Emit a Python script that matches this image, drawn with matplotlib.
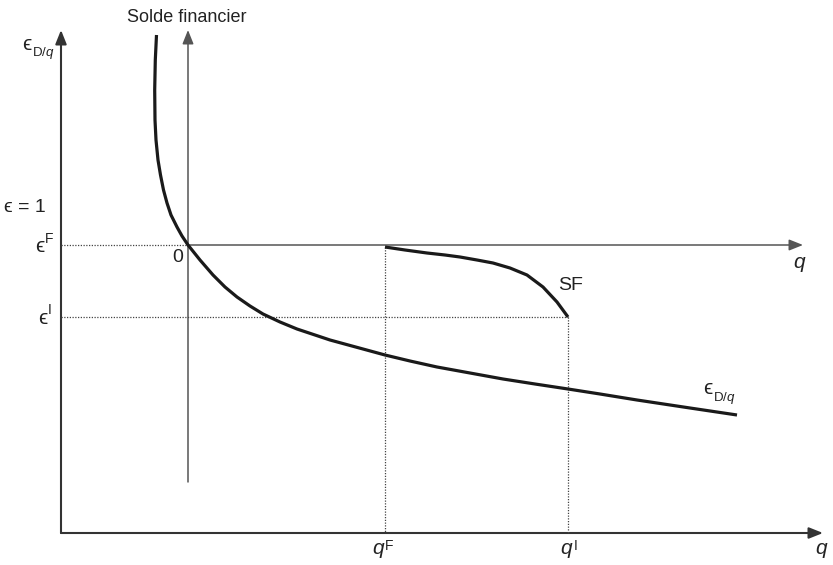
import matplotlib.pyplot as plt
from matplotlib.patches import FancyArrowPatch

plt.rcParams['font.family'] = ['Liberation Sans', 'DejaVu Sans']
plt.rcParams['mathtext.fontset'] = 'custom'
plt.rcParams['mathtext.rm'] = 'Liberation Sans'
plt.rcParams['mathtext.it'] = 'Liberation Sans:italic'

# diagram coordinates (x to the right, y downward, same scale as the picture)
# elasticity curve eps_D/q
eps_x = [156.5, 155.3, 154.7, 155, 156, 158, 160.5, 163.5, 167, 171, 177, 182, 188,
         200, 213, 225, 237, 250, 263, 280, 297, 330, 363, 385, 410, 437, 470, 503,
         535, 568, 600, 637, 690, 737]
eps_y = [35, 60, 90, 120, 140, 160, 175, 190, 203, 215, 227, 236, 245,
         260, 275, 287, 297, 306, 314, 322, 329, 340, 349, 355, 361, 367, 373, 379,
         384, 389, 394, 400, 408, 415]

# solde financier curve SF
sf_x = [385, 405, 427, 445, 460, 477, 493, 510, 527, 543, 557, 568]
sf_y = [247, 250, 253, 255, 257, 260, 263, 268, 275, 287, 302, 317]

# reference levels
origin_outer = (61, 533)
origin_inner = (188, 245)
q_F = 385
q_I = 568
eps_F = 245
eps_I = 317

fig = plt.figure(figsize=(8.33, 5.65), dpi=100)
ax = fig.add_axes([0, 0, 1, 1])
ax.set_xlim(0, 833)
ax.set_ylim(565, 0)
ax.axis('off')


def arrow(x0, y0, x1, y1, lw, color):
    ax.add_patch(FancyArrowPatch((x0, y0), (x1, y1),
                                 arrowstyle='-|>,head_length=0.7,head_width=0.28',
                                 mutation_scale=12, lw=lw, color=color,
                                 shrinkA=0, shrinkB=0))


# outer axes
arrow(origin_outer[0], origin_outer[1], origin_outer[0], 30, 1.5, '#333333')
arrow(origin_outer[0], origin_outer[1], 823, origin_outer[1], 1.5, '#333333')
# inner axes
arrow(origin_inner[0], 482, origin_inner[0], 30, 1.1, '#555555')
arrow(origin_inner[0], origin_inner[1], 803, origin_inner[1], 1.1, '#555555')

# dotted guide lines
dot = dict(color='#444444', lw=0.9, linestyle=(0, (1, 1.2)))
ax.plot([origin_outer[0], origin_inner[0]], [eps_F, eps_F], **dot)
ax.plot([origin_outer[0], q_I], [eps_I, eps_I], **dot)
ax.plot([q_F, q_F], [sf_y[0], origin_outer[1]], **dot)
ax.plot([q_I, q_I], [eps_I, origin_outer[1]], **dot)

# curves
ax.plot(eps_x, eps_y, color='#1a1a1a', lw=2.3, solid_capstyle='butt', solid_joinstyle='round')
ax.plot(sf_x, sf_y, color='#1a1a1a', lw=2.3, solid_capstyle='butt', solid_joinstyle='round')

tc = '#222222'
ax.text(187, 17, 'Solde financier', fontsize=13, ha='center', va='center', color=tc)

# eps_D/q labels
ax.text(27, 45, 'ϵ', fontsize=15, ha='center', va='center', color=tc)
ax.text(32, 53, r'D/$q$', fontsize=9.5, ha='left', va='center', color=tc)
ax.text(708, 389, 'ϵ', fontsize=15, ha='center', va='center', color=tc)
ax.text(713, 398, r'D/$q$', fontsize=9.5, ha='left', va='center', color=tc)

ax.text(4, 208, 'ϵ = 1', fontsize=14, ha='left', va='center', color=tc)
ax.text(40, 246, 'ϵ', fontsize=15, ha='center', va='center', color=tc)
ax.text(45, 239, 'F', fontsize=10, ha='left', va='center', color=tc)
ax.text(43, 318, 'ϵ', fontsize=15, ha='center', va='center', color=tc)
ax.text(48, 310, 'I', fontsize=10, ha='left', va='center', color=tc)
ax.text(178, 258, '0', fontsize=14, ha='center', va='center', color=tc)
ax.text(571, 286, 'SF', fontsize=14, ha='center', va='center', color=tc)

# q labels
ax.text(800, 264, r'$q$', fontsize=15, ha='center', va='center', color=tc)
ax.text(379, 551, r'$q$', fontsize=15, ha='center', va='center', color=tc)
ax.text(385, 546, 'F', fontsize=10, ha='left', va='center', color=tc)
ax.text(567, 551, r'$q$', fontsize=15, ha='center', va='center', color=tc)
ax.text(574, 546, 'I', fontsize=10, ha='left', va='center', color=tc)
ax.text(822, 551, r'$q$', fontsize=15, ha='center', va='center', color=tc)

fig.savefig('out.png', dpi=100)
